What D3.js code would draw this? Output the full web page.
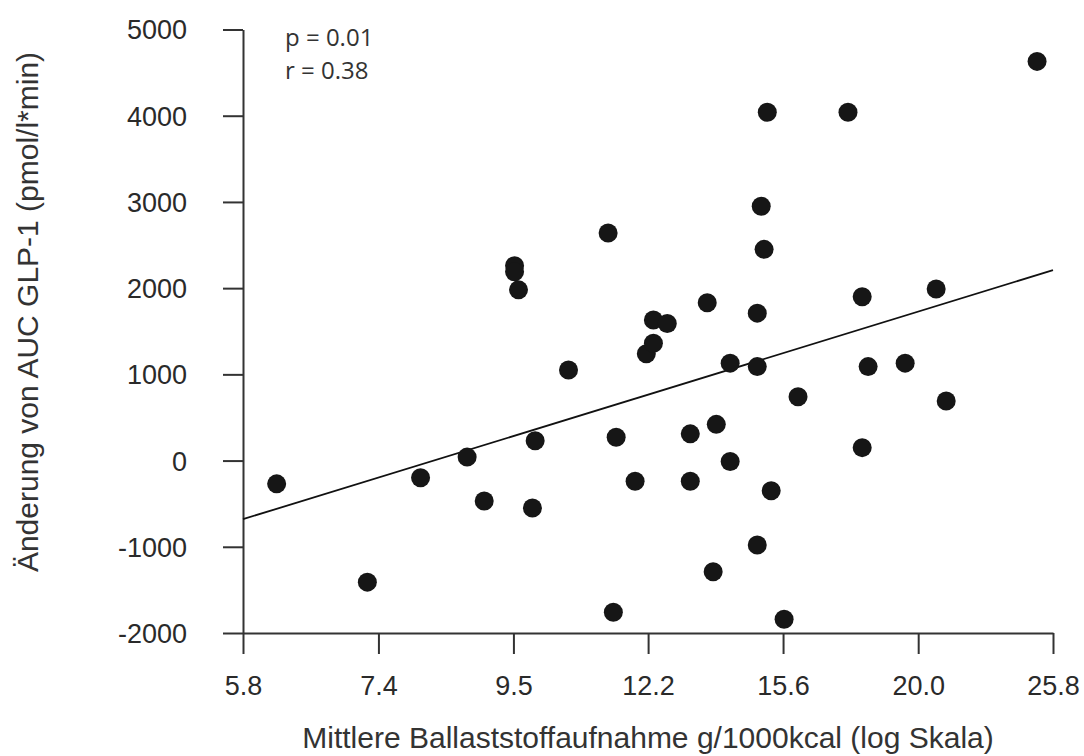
<!DOCTYPE html>
<html>
<head>
<meta charset="utf-8">
<script src="https://cdn.jsdelivr.net/npm/d3@7"></script>
<style>
    body { margin: 0; background: #fff; }
    svg { display: block; }
    .tick-label { font-family: "Liberation Sans", Arial, sans-serif; fill: #2a2a2a; }
</style>
</head>
<body>
<svg width="1084" height="756"></svg>
<script>
// Ballaststoffaufnahme g/1000kcal (x, log) und Änderung AUC GLP-1 (y)
var fiber = [6.12, 7.24, 7.99, 8.71, 8.99, 9.51, 9.51, 9.58, 9.88, 9.83,
    10.51, 11.31, 11.48, 11.42, 11.89, 12.14, 12.30, 12.30, 12.62, 13.17,
    13.17, 13.59, 13.82, 13.74, 14.18, 14.18, 14.91, 14.91, 14.91, 15.02,
    15.10, 15.19, 15.30, 15.67, 16.08, 17.64, 18.11, 18.11, 18.31, 19.61,
    20.77, 21.16, 25.04];
var glp1 = [-270, -1410, -200, 40, -470, 2260, 2190, 1980, 230, -550,
    1050, 2640, 270, -1760, -240, 1240, 1360, 1630, 1590, 310,
    -240, 1830, 420, -1290, 1130, -10, 1710, 1090, -980, 2950,
    2450, 4040, -350, -1840, 740, 4040, 1900, 150, 1090, 1130,
    1990, 690, 4630];

// Achsen
var xTickValues = [5.75, 7.39, 9.49, 12.18, 15.64, 20.09, 25.79];
var xTickLabels = ["5.8", "7.4", "9.5", "12.2", "15.6", "20.0", "25.8"];
var yTickValues = [-2000, -1000, 0, 1000, 2000, 3000, 4000, 5000];

// Regressionsgerade y = a + b * ln(x)
var regA = -4047;
var regB = 1925;
var statLines = ["p = 0.01", "r = 0.38"];

var svg = d3.select("svg");

var x = d3.scaleLog()
    .domain([xTickValues[0], xTickValues[xTickValues.length - 1]])
    .range([243, 1053]);
var y = d3.scaleLinear()
    .domain([-2000, 5000])
    .range([633, 29.5]);

//x-Achse
var xAxis = svg.append("g")
    .attr("transform", "translate(0,633)")
    .call(d3.axisBottom(x)
        .tickValues(xTickValues)
        .tickFormat(function (d, i) {
            return xTickLabels[i];
        })
        .tickSize(21)
        .tickSizeOuter(0));

//y-Achse (Bindestrich statt Minuszeichen)
var yAxis = svg.append("g")
    .attr("transform", "translate(243,0)")
    .call(d3.axisLeft(y)
        .tickValues(yTickValues)
        .tickFormat(function (d) {
            return String(d);
        })
        .tickSize(20)
        .tickSizeOuter(0));

svg.selectAll(".domain, .tick line")
    .attr("stroke", "#333")
    .attr("stroke-width", 2);

xAxis.selectAll(".tick text")
    .classed("tick-label", true)
    .attr("y", 62)
    .attr("dy", 0)
    .attr("font-size", 27)
    .attr("font-family", null);

yAxis.selectAll(".tick text")
    .classed("tick-label", true)
    .attr("x", -56)
    .attr("dy", "0.35em")
    .attr("font-size", 27)
    .attr("font-family", null);

// Regressionsgerade
var lineData = x.domain();
svg.append("path")
    .datum(lineData)
    .attr("fill", "none")
    .attr("stroke", "#111")
    .attr("stroke-width", 1.8)
    .attr("d", d3.line()
        .x(function (d) {
            return x(d);
        })
        .y(function (d) {
            return y(regA + regB * Math.log(d));
        }));

// Punkte
svg.append("g")
    .selectAll("circle")
    .data(d3.range(fiber.length))
    .enter()
    .append("circle")
    .attr("cx", function (i) {
        return x(fiber[i]);
    })
    .attr("cy", function (i) {
        return y(glp1[i]);
    })
    .attr("r", 9.5)
    .attr("fill", "#161616");

// p und r
svg.append("g")
    .selectAll("text")
    .data(statLines)
    .enter()
    .append("text")
    .attr("x", 285)
    .attr("y", function (d, i) {
        return 46 + i * 33;
    })
    .attr("font-family", "'Open Sans', sans-serif")
    .attr("font-size", 24)
    .attr("fill", "#333")
    .text(function (d) {
        return d;
    });

// Achsentitel
svg.append("text")
    .attr("x", 648)
    .attr("y", 748)
    .attr("text-anchor", "middle")
    .attr("font-family", "'Liberation Sans', Arial, sans-serif")
    .attr("font-size", 30)
    .attr("fill", "#333")
    .text("Mittlere Ballaststoffaufnahme g/1000kcal (log Skala)");

svg.append("text")
    .attr("transform", "translate(38,312) rotate(-90)")
    .attr("text-anchor", "middle")
    .attr("font-family", "'Liberation Sans', Arial, sans-serif")
    .attr("font-size", 30)
    .attr("fill", "#333")
    .text("Änderung von AUC GLP-1 (pmol/l*min)");
</script>
</body>
</html>
